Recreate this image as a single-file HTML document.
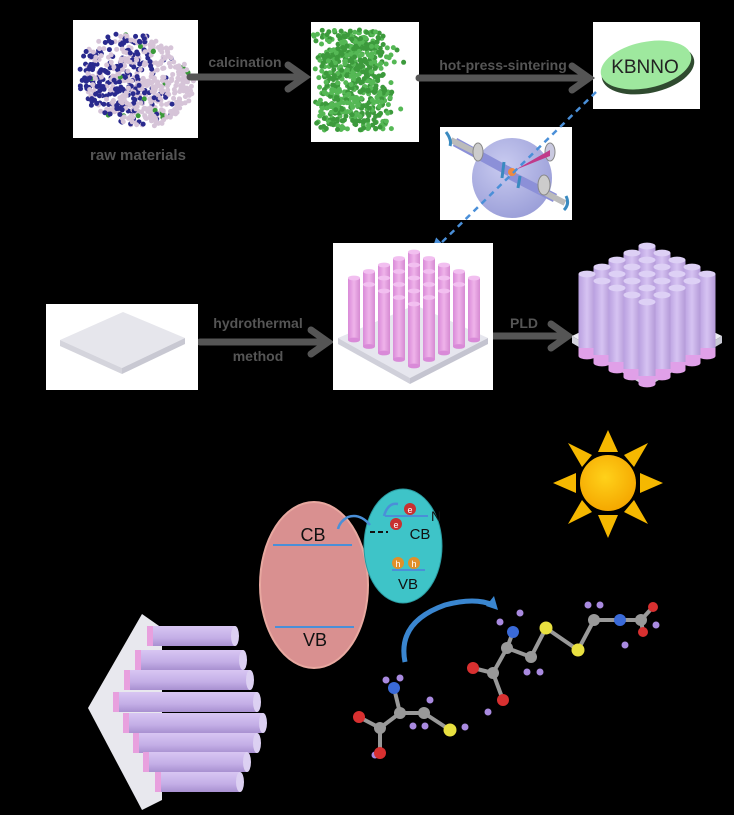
<!DOCTYPE html>
<html><head><meta charset="utf-8"><style>
html,body{margin:0;padding:0;background:#000;width:734px;height:815px;overflow:hidden}
svg{display:block}
text{font-family:"Liberation Sans",sans-serif}
</style></head><body>
<svg id="s" width="734" height="815" viewBox="0 0 734 815" xmlns="http://www.w3.org/2000/svg">
<defs>
<linearGradient id="rodP" x1="0" x2="1"><stop offset="0" stop-color="#d98ad8"/><stop offset="0.5" stop-color="#efb3ea"/><stop offset="1" stop-color="#d68ad2"/></linearGradient>
<linearGradient id="rodV" x1="0" x2="1"><stop offset="0" stop-color="#b9a0e0"/><stop offset="0.5" stop-color="#d6c3f2"/><stop offset="1" stop-color="#b49ad8"/></linearGradient>
<linearGradient id="rodH" x1="0" y1="0" x2="0" y2="1"><stop offset="0" stop-color="#d8c6f3"/><stop offset="0.6" stop-color="#c3aee6"/><stop offset="1" stop-color="#a890d0"/></linearGradient>
<radialGradient id="sun" cx="0.45" cy="0.4" r="0.6"><stop offset="0" stop-color="#ffd11a"/><stop offset="1" stop-color="#f5a800"/></radialGradient>
<radialGradient id="sph" cx="0.4" cy="0.35" r="0.7"><stop offset="0" stop-color="#c9cbf0"/><stop offset="1" stop-color="#9a9ed8"/></radialGradient>
<marker id="ah" markerWidth="6" markerHeight="6" refX="3" refY="3" orient="auto"><path d="M0,0 L6,3 L0,6 z" fill="#4a8fd8"/></marker>
</defs>
<rect width="734" height="815" fill="#000"/>
<rect x="73" y="20" width="125" height="118" fill="#fff"/>
<g id="raw"></g>
<rect x="311" y="22" width="108" height="120" fill="#fff"/>
<g id="grn"></g>
<rect x="593" y="22" width="107" height="87" fill="#fff"/>
<ellipse cx="648" cy="69" rx="47" ry="24" fill="#2f4a2f" transform="rotate(-12 648 69)"/>
<ellipse cx="646" cy="65" rx="46" ry="23" fill="#9ee89e" transform="rotate(-12 646 65)"/>
<text x="645" y="73" font-size="19" text-anchor="middle" fill="#222">KBNNO</text>
<text x="138" y="160" font-size="15" font-weight="bold" text-anchor="middle" fill="#555">raw materials</text>
<g stroke="#555" stroke-width="7" fill="none" stroke-linecap="round">
<line x1="190" y1="77" x2="302" y2="77"/><polyline points="288,65 305,77 288,89"/>
<line x1="419" y1="78" x2="586" y2="78"/><polyline points="572,66 589,78 572,90"/>
<line x1="200" y1="342" x2="325" y2="342"/><polyline points="311,330 328,342 311,354"/>
<line x1="493" y1="336" x2="565" y2="336"/><polyline points="551,324 568,336 551,348"/>
</g>
<g font-size="14" font-weight="bold" fill="#555" text-anchor="middle">
<text x="245" y="67">calcination</text>
<text x="503" y="70">hot-press-sintering</text>
<text x="258" y="328">hydrothermal</text>
<text x="258" y="361">method</text>
<text x="524" y="328">PLD</text>
</g>
<rect x="440" y="127" width="132" height="93" fill="#fff"/>
<circle cx="512" cy="178" r="40" fill="url(#sph)"/>
<line x1="455" y1="142" x2="510" y2="172" stroke="#8c90d8" stroke-width="9"/>
<line x1="510" y1="175" x2="555" y2="198" stroke="#8c90d8" stroke-width="9"/>
<line x1="451" y1="140" x2="475" y2="152" stroke="#bbb" stroke-width="6"/>
<line x1="540" y1="190" x2="565" y2="203" stroke="#bbb" stroke-width="6"/>
<ellipse cx="478" cy="152" rx="5" ry="9" fill="#ccc" stroke="#888"/>
<ellipse cx="544" cy="185" rx="6" ry="10" fill="#ccc" stroke="#888"/>
<ellipse cx="550" cy="152" rx="5" ry="9" fill="#c9c9e0" stroke="#888"/>
<polygon points="515,170 550,150 550,156" fill="#c03a8a"/>
<circle cx="512" cy="172" r="4" fill="#f08a40"/>
<line x1="504" y1="162" x2="502" y2="178" stroke="#3a8ac0" stroke-width="3"/>
<line x1="520" y1="176" x2="518" y2="188" stroke="#3a8ac0" stroke-width="3"/>
<path d="M446,132 q6,8 4,14" stroke="#3a8ac0" stroke-width="3" fill="none"/>
<path d="M566,196 q4,8 -2,14" stroke="#3a8ac0" stroke-width="3" fill="none"/>
<line x1="596" y1="92" x2="436" y2="248" stroke="#4a8fd8" stroke-width="2.5" stroke-dasharray="6,5" marker-end="url(#ah)"/>
<rect x="46" y="304" width="152" height="86" fill="#fff"/>
<polygon points="60,340 123,312 185,338 122,368" fill="#e6e6ec"/>
<polygon points="60,340 122,368 122,374 60,346" fill="#d4d4dc"/>
<polygon points="122,368 185,338 185,344 122,374" fill="#c8c8d2"/>
<rect x="333" y="243" width="160" height="147" fill="#fff"/>
<polygon points="338,338 415,305 488,338 410,378" fill="#e6e6ee"/>
<polygon points="338,338 410,378 410,384 338,344" fill="#d0d0da"/>
<polygon points="410,378 488,338 488,344 410,384" fill="#c4c4d0"/>
<g id="rods1"></g>
<polygon points="572,336 647,300 722,336 647,380" fill="#ececf2"/>
<polygon points="572,336 647,380 647,387 572,343" fill="#d4d4de"/>
<polygon points="647,380 722,336 722,343 647,387" fill="#c8c8d4"/>
<g id="rods2"></g>
<g fill="#f5b800">
<polygon points="608,430 598,452 618,452"/>
<polygon points="608,538 598,515 618,515"/>
<polygon points="553,483 576,473 576,493"/>
<polygon points="663,483 640,473 640,493"/>
<polygon points="568,443 582,467 592,455"/>
<polygon points="648,443 634,467 624,455"/>
<polygon points="568,524 582,500 592,512"/>
<polygon points="648,524 634,500 624,512"/>
</g>
<circle cx="608" cy="483" r="28" fill="url(#sun)"/>
<ellipse cx="314" cy="585" rx="54" ry="83" fill="#d99090" stroke="#e8a8a0" stroke-width="2"/>
<line x1="273" y1="545" x2="352" y2="545" stroke="#4a8fd8" stroke-width="2"/>
<line x1="275" y1="627" x2="354" y2="627" stroke="#4a8fd8" stroke-width="2"/>
<text x="313" y="541" font-size="18" text-anchor="middle" fill="#111">CB</text>
<text x="315" y="646" font-size="18" text-anchor="middle" fill="#111">VB</text>
<ellipse cx="403" cy="546" rx="39" ry="57" fill="#3ec4c8" stroke="#2a9aa0"/>
<line x1="385" y1="516" x2="428" y2="516" stroke="#4a8fd8" stroke-width="2"/>
<line x1="370" y1="532" x2="388" y2="532" stroke="#111" stroke-width="2" stroke-dasharray="5,3"/>
<text x="420" y="539" font-size="15" text-anchor="middle" fill="#111">CB</text>
<text x="408" y="589" font-size="15" text-anchor="middle" fill="#111">VB</text>
<text x="431" y="521" font-size="14" fill="#111">N</text>
<line x1="392" y1="570" x2="425" y2="570" stroke="#4a8fd8" stroke-width="2"/>
<circle cx="410" cy="509" r="6" fill="#c83030"/><text x="410" y="513" font-size="9" fill="#fff" text-anchor="middle">e</text>
<circle cx="396" cy="524" r="6" fill="#c83030"/><text x="396" y="528" font-size="9" fill="#fff" text-anchor="middle">e</text>
<circle cx="398" cy="563" r="6" fill="#e0902a"/><text x="398" y="567" font-size="9" fill="#fff" text-anchor="middle">h</text>
<circle cx="414" cy="563" r="6" fill="#e0902a"/><text x="414" y="567" font-size="9" fill="#fff" text-anchor="middle">h</text>
<path d="M398,504 q-10,-2 -14,12" stroke="#4a8fd8" stroke-width="2.5" fill="none"/>
<path d="M370,525 q-10,-12 -22,-8 q-8,4 -10,12" stroke="#4a8fd8" stroke-width="2.5" fill="none"/>
<path d="M405,662 q-8,-40 40,-57 q30,-8 48,0" stroke="#3a86d0" stroke-width="5" fill="none"/>
<polygon points="494,596 498,610 486,606" fill="#3a86d0"/>
<polygon points="142,614 162,628 162,800 142,810 88,708" fill="#e8e8ee"/>
<g id="hrods"></g>
<g id="mol"></g>
</svg>
<script>
var NS="http://www.w3.org/2000/svg";
function el(p,t,a){var e=document.createElementNS(NS,t);for(var k in a)e.setAttribute(k,a[k]);document.getElementById(p).appendChild(e);return e;}
var seed=7;function r(){seed=(seed*9301+49297)%233280;return seed/233280;}
for(var i=0;i<650;i++){var a=r()*6.28,d=Math.sqrt(r());var x=136+Math.cos(a)*d*55+(r()-0.5)*10,y=80+Math.sin(a)*d*46+(x-136)*0.1;
var pb=0.75-(x-80)/130;var c=r()<pb?"#2a2a8e":(r()<0.95?"#d6c4d8":"#3a9a3a");el("raw","circle",{cx:x,cy:y,r:2.5,fill:c});}
for(var i=0;i<650;i++){var x=352+(r()-0.5)*60+(r()-0.5)*20,y=80+(r()-0.5)*100;if(r()<0.15){x+=20*r();}
el("grn","circle",{cx:x,cy:y,r:2.5,fill:r()<0.5?"#3c9a3c":"#55b855"});}
function rods(g,cx,ty,dx,dy,w,len,grad,tip){var list=[];for(var i=0;i<5;i++)for(var j=0;j<5;j++)list.push([i,j]);
list.sort(function(a,b){return (a[0]+a[1])-(b[0]+b[1]);});
list.forEach(function(p){var x=cx+(p[0]-p[1])*dx,y=ty+(p[0]+p[1])*dy;
el(g,"rect",{x:x-w/2,y:y,width:w,height:len,fill:"url(#"+grad+")"});
if(tip)el(g,"rect",{x:x-w/2,y:y+len-8,width:w,height:8,fill:tip});
el(g,"ellipse",{cx:x,cy:y+len,rx:w/2,ry:w/5,fill:tip||"#d98ad8"});
el(g,"ellipse",{cx:x,cy:y,rx:w/2,ry:w/5,fill:grad=="rodP"?"#f2bff0":"#ddd0f5"});});}
rods("rods1",414,252,15,6.5,12,62,"rodP",null);
rods("rods2",647,246,15,7,17,82,"rodV","#e0a0e8");
var hr=[[636,147,235],[660,135,243],[680,124,250],[702,113,257],[723,123,263],[743,133,257],[762,143,247],[782,155,240]];
hr.forEach(function(h){var y=h[0],x0=h[1],x1=h[2];
el("hrods","rect",{x:x0,y:y-10,width:x1-x0,height:20,fill:"url(#rodH)"});
el("hrods","rect",{x:x0,y:y-10,width:6,height:20,fill:"#e8a0de"});
el("hrods","ellipse",{cx:x1,cy:y,rx:4,ry:10,fill:"#dcd0f2"});});
var bonds=[[513,632,507,648],[507,648,531,657],[531,657,546,628],[546,628,578,650],[578,650,594,620],[594,620,620,620],[620,620,641,620],[641,620,653,607],[641,620,643,632],[507,648,493,673],[493,673,473,668],[493,673,503,700],
[394,688,400,713],[400,713,424,713],[424,713,450,730],[400,713,380,728],[380,728,359,717],[380,728,380,753]];
bonds.forEach(function(b){el("mol","line",{x1:b[0],y1:b[1],x2:b[2],y2:b[3],stroke:"#999",'stroke-width':4});});
var H=[[500,622],[520,613],[527,672],[540,672],[588,605],[600,605],[625,645],[656,625],[488,712],[386,680],[400,678],[413,726],[425,726],[430,700],[465,727],[375,755]];
H.forEach(function(h){el("mol","circle",{cx:h[0],cy:h[1],r:3.5,fill:"#a98ae0"});});
var A=[[513,632,"#3a6ad8",6],[507,648,"#999",6],[531,657,"#999",6],[546,628,"#e8e040",6.5],[578,650,"#e8e040",6.5],[594,620,"#999",6],[620,620,"#3a6ad8",6],[641,620,"#999",6],[653,607,"#d83030",5],[643,632,"#d83030",5],[493,673,"#999",6],[473,668,"#d83030",6],[503,700,"#d83030",6],
[394,688,"#3a6ad8",6],[400,713,"#999",6],[424,713,"#999",6],[450,730,"#e8e040",6.5],[380,728,"#999",6],[359,717,"#d83030",6],[380,753,"#d83030",6]];
A.forEach(function(a){el("mol","circle",{cx:a[0],cy:a[1],r:a[3],fill:a[2]});});
</script>
</body></html>
